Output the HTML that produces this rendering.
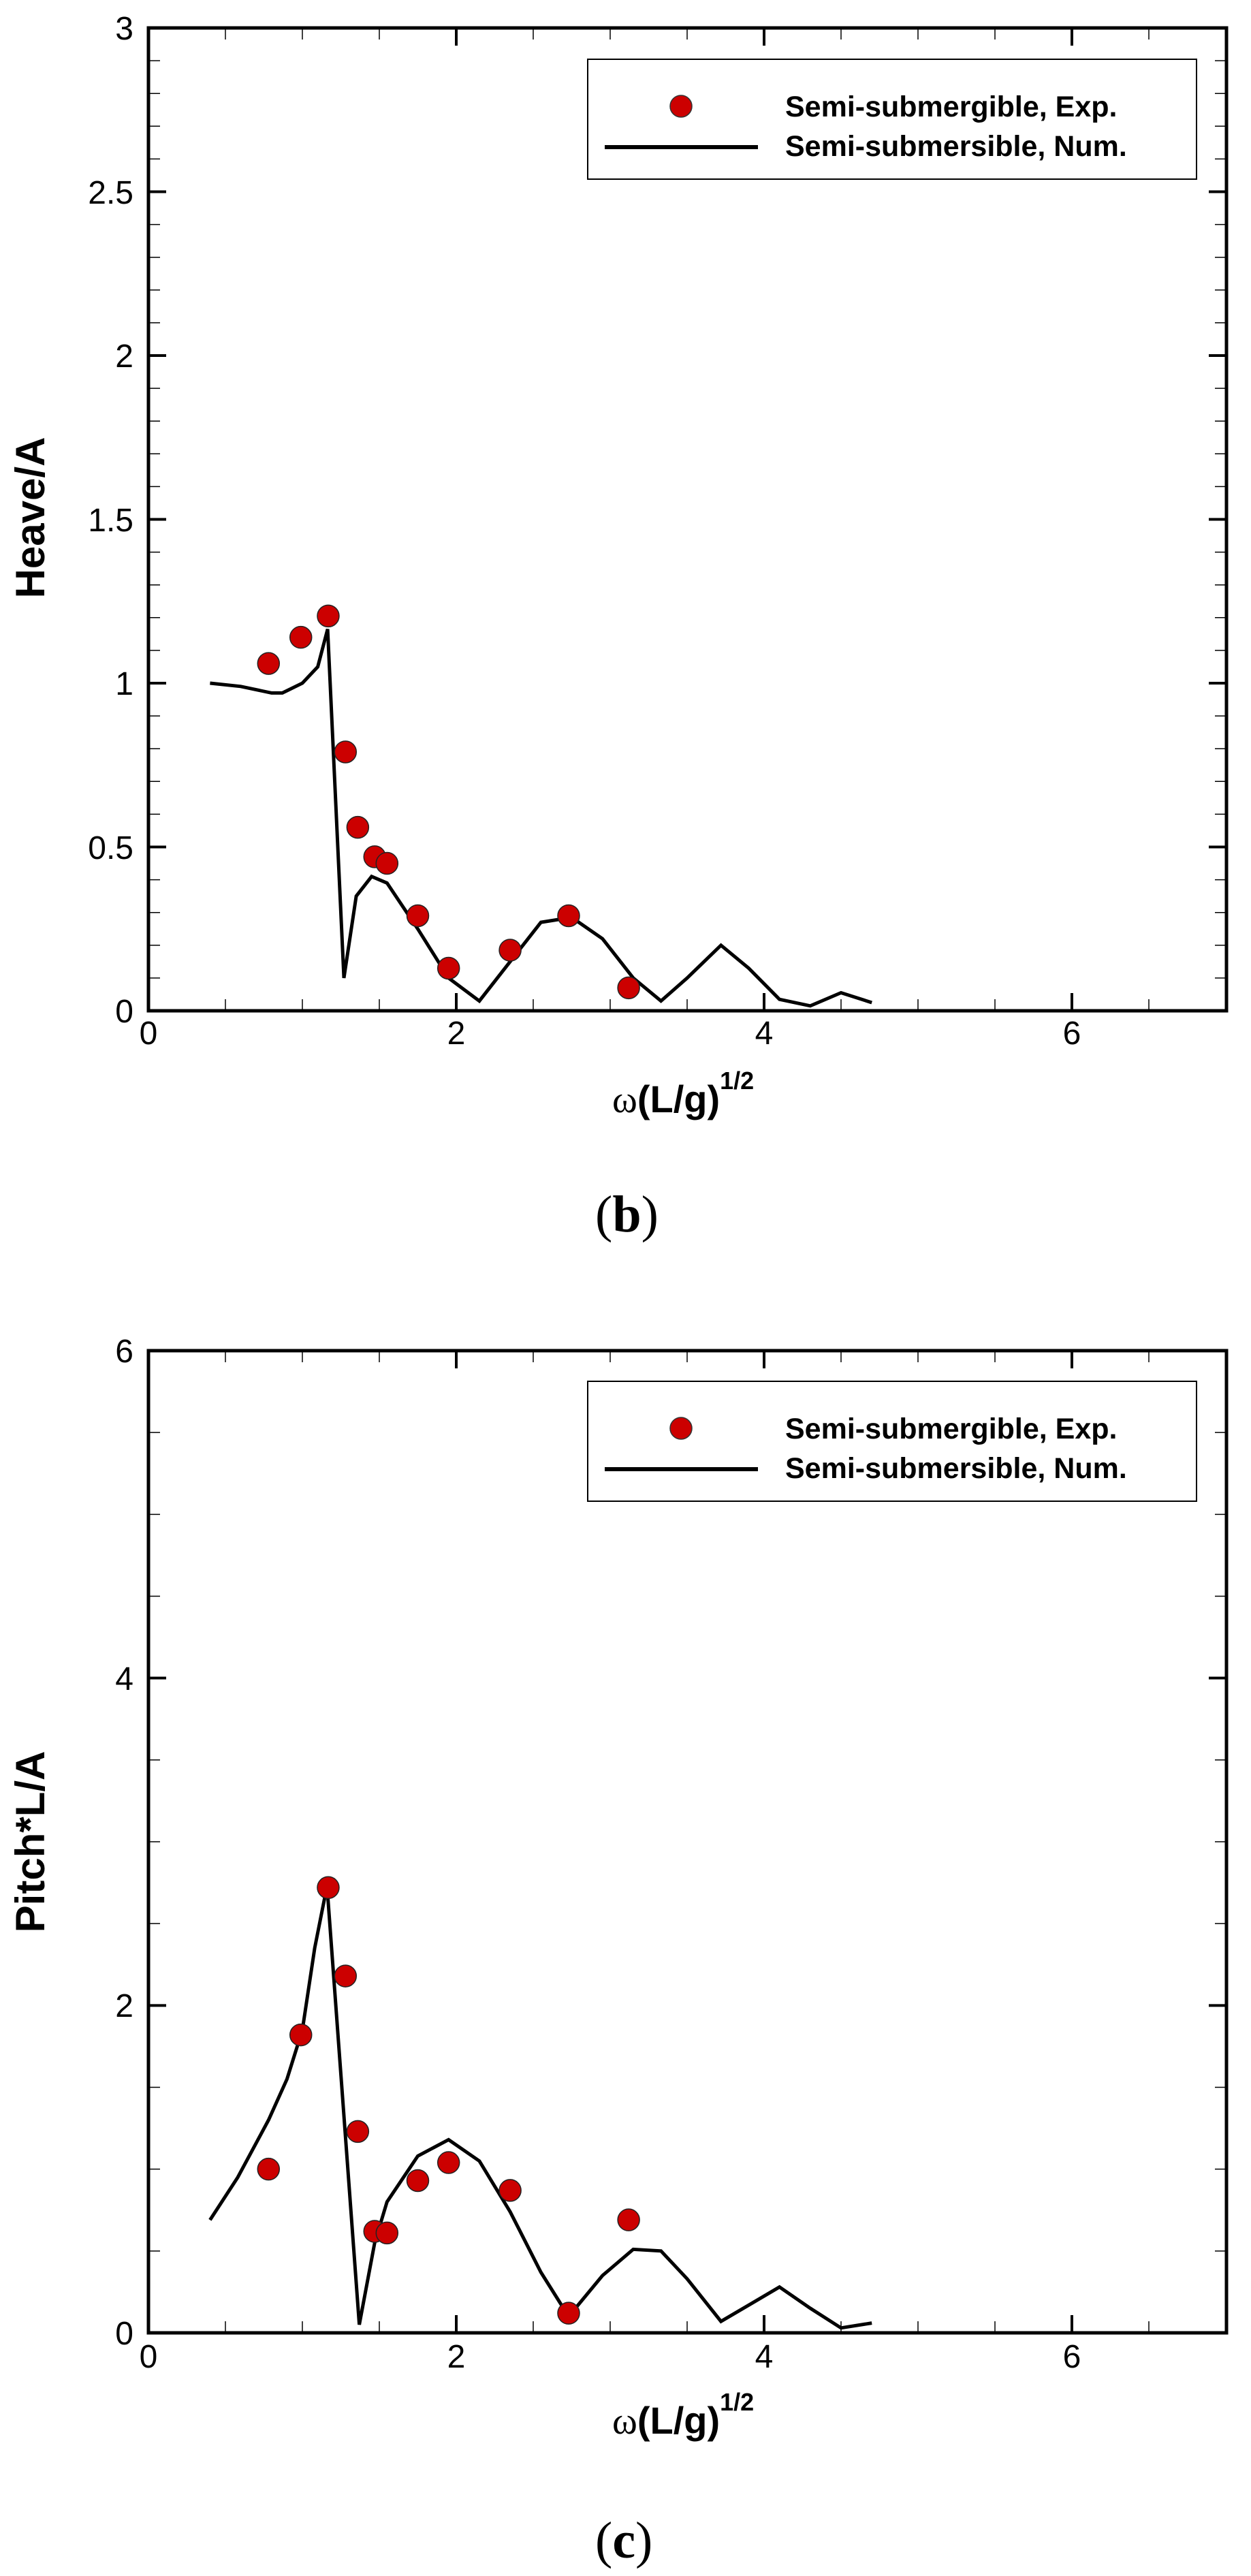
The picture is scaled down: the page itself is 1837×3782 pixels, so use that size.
<!DOCTYPE html>
<html><head><meta charset="utf-8"><style>
html,body{margin:0;padding:0;background:#fff;}
svg{display:block;}
text{font-family:"Liberation Sans",sans-serif;}
</style></head><body>
<svg id="s" width="1837" height="3782" viewBox="0 0 1837 3782" xmlns="http://www.w3.org/2000/svg">
<rect width="1837" height="3782" fill="#fff"/>
<g id="g1"></g>
<g id="g2"></g>
<!-- Chart 1 text -->
<g font-size="48" fill="#000" text-anchor="end">
<text x="196" y="1501">0</text>
<text x="196" y="1261">0.5</text>
<text x="196" y="1020">1</text>
<text x="196" y="780">1.5</text>
<text x="196" y="539">2</text>
<text x="196" y="299">2.5</text>
<text x="196" y="58">3</text>
</g>
<g font-size="48" fill="#000" text-anchor="middle">
<text x="218" y="1533">0</text>
<text x="670" y="1533">2</text>
<text x="1122" y="1533">4</text>
<text x="1574" y="1533">6</text>
</g>
<text transform="translate(65,760) rotate(-90)" font-size="60" font-weight="bold" text-anchor="middle">Heave/A</text>
<text x="899" y="1633" font-size="56"><tspan style="font-family:'Liberation Serif',serif">ω</tspan><tspan font-weight="bold">(L/g)</tspan><tspan font-weight="bold" font-size="36" dy="-34">1/2</tspan></text>
<text x="874" y="1808" font-size="76" style="font-family:'Liberation Serif',serif">(<tspan font-weight="bold">b</tspan>)</text>
<g>
<rect x="863" y="87" width="894" height="176" fill="#fff" stroke="#000" stroke-width="2"/>
<circle cx="1000" cy="156" r="16" fill="#cc0000" stroke="#333" stroke-width="1.5"/>
<line x1="888" y1="216" x2="1113" y2="216" stroke="#000" stroke-width="6"/>
<text x="1153" y="171" font-size="43" font-weight="bold">Semi-submergible, Exp.</text>
<text x="1153" y="229" font-size="43" font-weight="bold">Semi-submersible, Num.</text>
</g>
<!-- Chart 2 text -->
<g font-size="48" fill="#000" text-anchor="end">
<text x="196" y="3442">0</text>
<text x="196" y="2961">2</text>
<text x="196" y="2481">4</text>
<text x="196" y="2000">6</text>
</g>
<g font-size="48" fill="#000" text-anchor="middle">
<text x="218" y="3476">0</text>
<text x="670" y="3476">2</text>
<text x="1122" y="3476">4</text>
<text x="1574" y="3476">6</text>
</g>
<text transform="translate(65,2704) rotate(-90)" font-size="60" font-weight="bold" text-anchor="middle">Pitch*L/A</text>
<text x="899" y="3573" font-size="56"><tspan style="font-family:'Liberation Serif',serif">ω</tspan><tspan font-weight="bold">(L/g)</tspan><tspan font-weight="bold" font-size="36" dy="-34">1/2</tspan></text>
<text x="874" y="3755" font-size="76" style="font-family:'Liberation Serif',serif">(<tspan font-weight="bold">c</tspan>)</text>
<g>
<rect x="863" y="2028" width="894" height="176" fill="#fff" stroke="#000" stroke-width="2"/>
<circle cx="1000" cy="2097" r="16" fill="#cc0000" stroke="#333" stroke-width="1.5"/>
<line x1="888" y1="2157" x2="1113" y2="2157" stroke="#000" stroke-width="6"/>
<text x="1153" y="2112" font-size="43" font-weight="bold">Semi-submergible, Exp.</text>
<text x="1153" y="2170" font-size="43" font-weight="bold">Semi-submersible, Num.</text>
</g>
</svg>
<script>
(function(){
var NS="http://www.w3.org/2000/svg";
function el(p,t,a){var e=document.createElementNS(NS,t);for(var k in a)e.setAttribute(k,a[k]);p.appendChild(e);return e;}
function chart(g,top,bot,ymax,ymaj,ymin,exp,num){
 var L=218,R=1801,u=226;
 var X=function(x){return L+u*x;}, Y=function(y){return bot-(bot-top)*y/ymax;};
 for(var i=0;i<=14;i++){var x=X(i*0.5);if(x>R-2)continue;var maj=(i%4==0);var len=maj?26:17,w=maj?4:1.5;
  el(g,'line',{x1:x,y1:bot,x2:x,y2:bot-len,stroke:'#000','stroke-width':w});
  el(g,'line',{x1:x,y1:top,x2:x,y2:top+len,stroke:'#000','stroke-width':w});}
 var n=Math.round(ymax/ymin);
 for(var j=0;j<=n;j++){var v=j*ymin,y=Y(v);var maj=Math.abs(v/ymaj-Math.round(v/ymaj))<1e-6;var len=maj?26:17,w=maj?4:1.5;
  el(g,'line',{x1:L,y1:y,x2:L+len,y2:y,stroke:'#000','stroke-width':w});
  el(g,'line',{x1:R,y1:y,x2:R-len,y2:y,stroke:'#000','stroke-width':w});}
 var pts=num.map(function(p){return X(p[0]).toFixed(1)+','+Y(p[1]).toFixed(1);}).join(' ');
 el(g,'polyline',{points:pts,fill:'none',stroke:'#000','stroke-width':5,'stroke-linejoin':'miter'});
 exp.forEach(function(p){el(g,'circle',{cx:X(p[0]),cy:Y(p[1]),r:16,fill:'#cc0000',stroke:'#222','stroke-width':1.5});});
 el(g,'rect',{x:L,y:top,width:R-L,height:bot-top,fill:'none',stroke:'#000','stroke-width':5});
}
chart(document.getElementById('g1'),41,1484,3,0.5,0.1,
[[0.78,1.06],[0.99,1.14],[1.168,1.205],[1.28,0.79],[1.36,0.56],[1.47,0.47],[1.55,0.45],[1.75,0.29],[1.95,0.13],[2.35,0.185],[2.73,0.29],[3.12,0.07]],
[[0.4,1.0],[0.6,0.99],[0.8,0.97],[0.87,0.97],[1.0,1.0],[1.1,1.05],[1.164,1.165],[1.27,0.1],[1.35,0.35],[1.45,0.41],[1.55,0.39],[1.75,0.25],[1.95,0.1],[2.15,0.03],[2.35,0.15],[2.55,0.27],[2.75,0.285],[2.95,0.22],[3.15,0.1],[3.33,0.03],[3.5,0.1],[3.72,0.2],[3.9,0.13],[4.1,0.035],[4.3,0.015],[4.5,0.055],[4.7,0.025]]);
chart(document.getElementById('g2'),1983,3425,6,2,0.5,
[[0.78,1.0],[0.99,1.82],[1.168,2.72],[1.28,2.18],[1.36,1.23],[1.47,0.62],[1.55,0.61],[1.75,0.93],[1.95,1.04],[2.35,0.87],[2.73,0.12],[3.12,0.69]],
[[0.4,0.69],[0.58,0.95],[0.78,1.3],[0.9,1.55],[1.0,1.85],[1.08,2.35],[1.16,2.73],[1.37,0.05],[1.47,0.55],[1.55,0.8],[1.75,1.08],[1.95,1.18],[2.15,1.05],[2.35,0.74],[2.55,0.37],[2.73,0.1],[2.95,0.35],[3.15,0.51],[3.33,0.5],[3.5,0.33],[3.72,0.07],[3.92,0.18],[4.1,0.28],[4.3,0.15],[4.5,0.03],[4.7,0.06]]);
})();
</script>
</body></html>
